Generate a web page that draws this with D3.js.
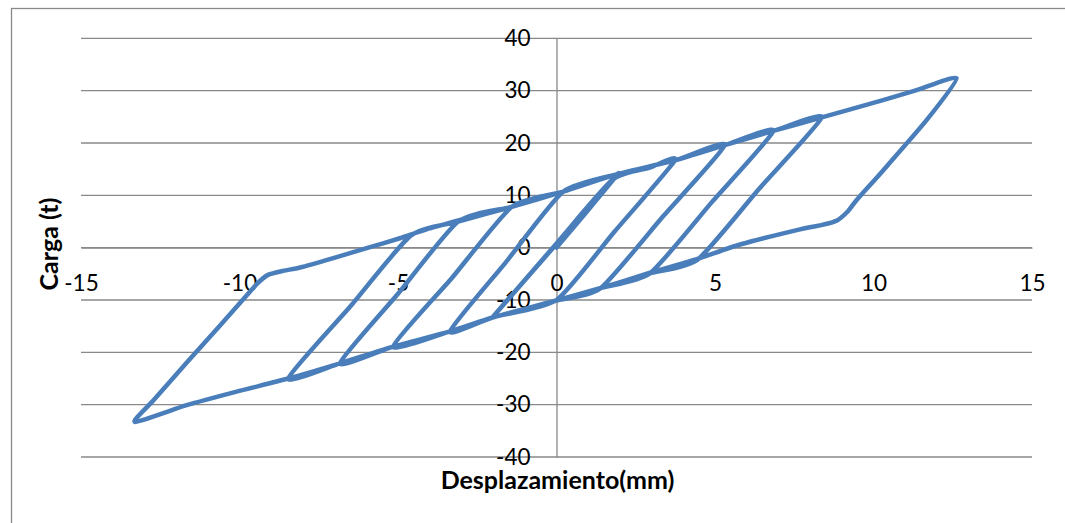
<!DOCTYPE html>
<html>
<head>
<meta charset="utf-8">
<script src="https://cdnjs.cloudflare.com/ajax/libs/d3/7.8.5/d3.min.js"></script>
<style>
  html, body { margin: 0; padding: 0; background: #ffffff; }
  svg { display: block; }
</style>
</head>
<body>
<svg id="chart" width="1065" height="523"></svg>
<script>
// ---- data ----
const xTicks = [-15, -10, -5, 0, 5, 10, 15];
const yTicks = [-40, -30, -20, -10, 0, 10, 20, 30, 40];
const xTitle = "Desplazamiento(mm)";
const yTitle = "Carga (t)";

// displacement (mm) along the recorded hysteresis path
const desplazamiento = [
  0.0, 1.0, 1.95,
  0.0, -1.99,
  0.0, 1.77, 2.95, 3.74,
  1.8, 0.0, -1.99, -3.36,
  -1.6, 0.21, 1.95, 3.74, 5.31,
  3.35, 1.4, 0.0, -1.99, -3.36, -5.15,
  -3.3, -1.41, 0.21, 1.95, 3.74, 5.31, 6.84,
  4.9, 2.95, 1.4, 0.0, -1.99, -3.36, -5.15, -6.83,
  -5.0, -3.1, -1.41, 0.21, 1.95, 3.74, 5.31, 6.84, 8.37,
  6.4, 4.45, 2.95, 1.4, 0.0, -1.99, -3.36, -5.15, -6.83, -8.46,
  -6.5, -4.6, -3.1, -1.41, 0.21, 1.95, 3.74, 5.31, 6.84, 8.37, 10.3, 11.36, 12.62,
  11.68, 10.31, 9.47, 9.2, 8.85, 8.35, 7.68, 5.79, 4.42, 2.95, 1.37, 0.0, -1.99, -3.36, -5.15, -6.83, -8.46, -10.09, -11.67, -13.3,
  -12.72, -11.67, -10.62, -9.77, -9.45, -9.1, -8.6, -8.09, -7.04, -5.99, -4.94, -4.1, -3.04
];
// load (t) at each of those points
const carga = [
  0.0, 7.2, 14.2,
  0.7, -13.1,
  0.8, 13.0, 15.3, 16.7,
  2.85, -10.0, -13.3, -16.0,
  -2.8, 10.7, 14.1, 16.7, 19.6,
  5.9, -7.7, -10.1, -13.3, -16.0, -18.9,
  -5.8, 7.8, 10.7, 14.1, 16.7, 19.6, 22.3,
  8.7, -4.9, -7.7, -10.1, -13.3, -16.0, -18.9, -22.1,
  -8.8, 5.0, 7.8, 10.7, 14.1, 16.7, 19.6, 22.3, 24.9,
  11.3, -2.3, -4.9, -7.7, -10.1, -13.3, -16.0, -18.9, -22.1, -25.0,
  -11.2, 2.3, 5.0, 7.8, 10.7, 14.1, 16.7, 19.6, 22.3, 24.9, 28.2, 30.1, 32.4,
  24.4, 14.8, 9.1, 7.0, 5.2, 4.3, 3.5, 0.6, -2.2, -4.8, -7.8, -10.1, -13.3, -16.0, -18.9, -22.1, -25.0, -27.5, -30.1, -33.3,
  -29.2, -22.0, -14.9, -9.1, -6.9, -5.2, -4.4, -3.8, -2.0, -0.1, 1.8, 3.5, 5.3
];

// ---- drawing ----
const svg = d3.select("#chart");
const FONT = "Lato, 'Open Sans', 'DejaVu Sans', sans-serif";
const gridColor = "#898989";

// chart area border
svg.append("rect")
  .attr("x", 11.5).attr("y", 8.5)
  .attr("width", 1070).attr("height", 530)
  .attr("fill", "#ffffff")
  .attr("stroke", gridColor).attr("stroke-width", 1.3);

const x = d3.scaleLinear().domain([-15, 15]).range([81, 1032]);
const y = d3.scaleLinear().domain([-40, 40]).range([457, 38.3]);
const fmt = d => String(d);

// horizontal gridlines
svg.append("g").selectAll("line").data(yTicks).join("line")
  .attr("x1", x(-15)).attr("x2", x(15))
  .attr("y1", d => y(d)).attr("y2", d => y(d))
  .attr("stroke", gridColor).attr("stroke-width", 1.3);

// y axis (crossing at x = 0)
const yAxis = svg.append("g")
  .attr("transform", `translate(${x(0)},0)`)
  .call(d3.axisLeft(y).tickValues(yTicks).tickFormat(fmt).tickSize(0).tickSizeOuter(0).tickPadding(26));
yAxis.select(".domain").attr("stroke", gridColor).attr("stroke-width", 1.3);
yAxis.selectAll("text")
  .attr("font-family", FONT).attr("font-size", 22.5).attr("fill", "#000");

// x axis (crossing at y = 0)
const xAxis = svg.append("g")
  .attr("transform", `translate(0,${y(0)})`)
  .call(d3.axisBottom(x).tickValues(xTicks).tickFormat(fmt).tickSize(0).tickSizeOuter(0).tickPadding(27));
xAxis.select(".domain").attr("stroke", gridColor).attr("stroke-width", 1.3);
xAxis.selectAll("text")
  .attr("font-family", FONT).attr("font-size", 22.5).attr("fill", "#000");

// axis titles
svg.append("text")
  .attr("x", (x(-15) + x(15)) / 2 + 1).attr("y", 489)
  .attr("text-anchor", "middle")
  .attr("font-family", FONT).attr("font-size", 25).attr("font-weight", "bold")
  .text(xTitle);

svg.append("text")
  .attr("transform", "translate(58,244) rotate(-90)")
  .attr("text-anchor", "middle")
  .attr("font-family", FONT).attr("font-size", 25).attr("font-weight", "bold")
  .text(yTitle);

// hysteresis curve
const pts = desplazamiento.map((d, i) => [d, carga[i]]);
const line = d3.line()
  .x(d => x(d[0])).y(d => y(d[1]))
  .curve(d3.curveCardinal.tension(0.4));
svg.append("path")
  .datum(pts)
  .attr("d", line)
  .attr("fill", "none")
  .attr("stroke", "#4a7ebb")
  .attr("stroke-width", 4.5)
  .attr("stroke-linejoin", "round")
  .attr("stroke-linecap", "round");
</script>
</body>
</html>
